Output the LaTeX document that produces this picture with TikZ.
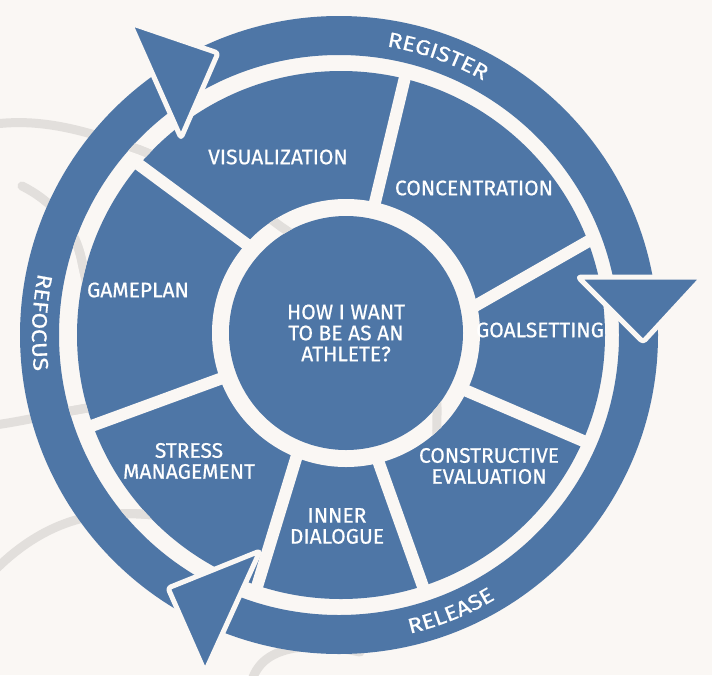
\documentclass[tikz,border=0pt]{standalone}
\usepackage{fontspec}
\setmainfont{Fira Sans}
\newfontfamily\wheelfont{Fira Sans}[FakeBold=0.6]
\newfontfamily\ringface{Fira Sans}[FakeBold=0.6, FakeStretch=1.15]
\usetikzlibrary{decorations.text}

\definecolor{wheelblue}{RGB}{78,118,166}
\definecolor{paper}{RGB}{250,247,244}
\definecolor{scribble}{RGB}{226,223,220}

\newcommand{\ringfont}{\ringface\fontsize{21}{21}\selectfont}

% grey pencil loops behind the wheel
\newcommand{\scribbles}{%
  \draw[scribble, line width=9pt, line cap=round]
    (-5,124) .. controls (45,118) and (90,132) .. (140,150)
    .. controls (190,170) and (240,195) .. (280,226)
    .. controls (360,280) and (440,340) .. (437,415)
    .. controls (435,470) and (445,520) .. (455,560);
  \draw[scribble, line width=9pt, line cap=round]
    (22,186) .. controls (50,200) and (75,225) .. (82,262)
    .. controls (88,290) and (92,305) .. (100,320);
  \draw[scribble, line width=9pt, line cap=round]
    (-5,425) .. controls (30,420) and (60,412) .. (100,406);
  \draw[scribble, line width=9pt, line cap=round]
    (-5,570) .. controls (25,540) and (60,520) .. (100,515)
    .. controls (130,512) and (150,514) .. (175,518);
  \draw[scribble, line width=9pt, line cap=round]
    (252,680) .. controls (258,662) and (272,652) .. (295,648)
    .. controls (320,645) and (340,648) .. (360,652);
}

\begin{document}
\begin{tikzpicture}[x=1pt,y=-1pt,
  tag/.style={text=white, align=center, font=\wheelfont\fontsize{21}{21}\selectfont},
  gap/.style={draw=paper, line width=12pt},
  pointer/.style={fill=wheelblue, draw=paper, line width=5pt, rounded corners=3pt, line join=round},
  ringtext/.style={decorate, decoration={text along path, text align=center, text color=white, text={|\ringfont|#1}}}]

\useasboundingbox (0,0) rectangle (712,675);
\fill[paper] (0,0) rectangle (712,675);

\scribbles

\coordinate (o) at (339,335);
\coordinate (d) at (341,335);
\coordinate (h) at (346,333);

% outer ring
\fill[wheelblue, even odd rule] (o) circle (319) (o) circle (280);

\path[ringtext=REGISTER] (o) ++(-85.5:292.5) arc[start angle=-85.5, end angle=-55.5, radius=292.5];
\path[ringtext=RELEASE] (o) ++(83:307) arc[start angle=83, end angle=53, radius=307];
\path[ringtext=REFOCUS] (o) ++(-162.6:307) arc[start angle=-162.6, end angle=-192.6, radius=307];

% wheel and its spokes
\fill[wheelblue] (d) circle (264);

\draw[gap] (253,249) -- (130,158);
\draw[gap] (372,215) -- (406,73);
\draw[gap] (468,310) -- (594,238);
\draw[gap] (460,388) -- (588,443);
\draw[gap] (375,452) -- (426,595);
\draw[gap] (298,452) -- (256,590);
\draw[gap] (228,376) -- (86,428);

\fill[paper] (h) circle (134);
\node[circle, fill=wheelblue, minimum size=234pt, inner sep=0pt, tag] (hub) at (h)
  {HOW I WANT\\TO BE AS AN\\ATHLETE?};

% pencil lines seen through the gaps
\begin{scope}
  \clip (o) ++(0:280) arc[start angle=0, end angle=360, radius=280]
        (d) ++(0:264) arc[start angle=360, end angle=0, radius=264];
  \scribbles
\end{scope}
\begin{scope}
  \clip (h) ++(0:134) arc[start angle=0, end angle=360, radius=134]
        (h) ++(0:117) arc[start angle=360, end angle=0, radius=117];
  \scribbles
\end{scope}

\node[tag] (visual) at (278,157) {VISUALIZATION};
\node[tag] (concentration) at (474,188) {CONCENTRATION};
\node[tag] (goals) at (540,330) {GOALSETTING};
\node[tag] (evaluation) at (489,466) {CONSTRUCTIVE\\EVALUATION};
\node[tag] (dialogue) at (337,526) {INNER\\DIALOGUE};
\node[tag] (stress) at (189,461) {STRESS\\MANAGEMENT};
\node[tag] (gameplan) at (138,290) {GAMEPLAN};

% arrow heads on the ring
\draw[pointer] (130,23) -- (218,53) -- (181,138) -- cycle;
\draw[pointer] (578,277) -- (703,277) -- (643,342) -- cycle;
\draw[pointer] (168,588) -- (260,551) -- (205,672) -- cycle;

\end{tikzpicture}
\end{document}
